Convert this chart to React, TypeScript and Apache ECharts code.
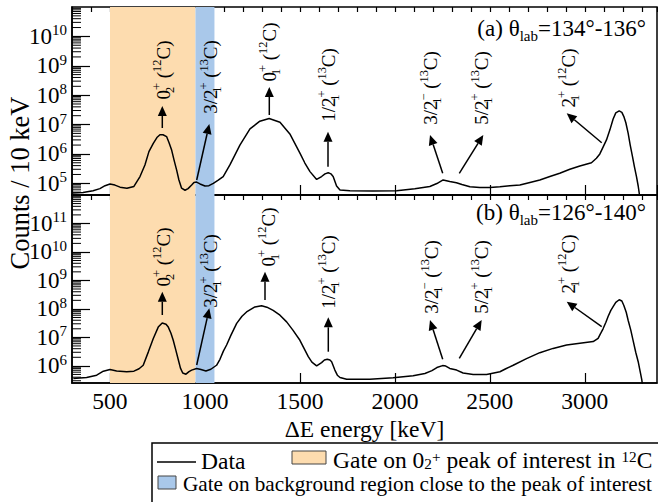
import React, { useEffect, useRef } from 'react';
import * as echarts from 'echarts';

// ---------- data ----------
// (a) theta_lab = 134-136 deg : energy [keV] and counts / 10 keV
const energyA = [305, 358, 411, 447, 474, 500, 526, 553, 589, 626, 658, 684, 705, 728, 747, 763, 779, 798, 811, 824, 837, 851, 863, 877, 895, 911, 930, 942, 956, 974, 1000, 1021, 1044, 1068, 1096, 1132, 1184, 1237, 1289, 1338, 1395, 1447, 1500, 1526, 1553, 1588, 1614, 1632, 1649, 1663, 1675, 1693, 1711, 1763, 1884, 2009, 2105, 2184, 2221, 2254, 2289, 2324, 2353, 2395, 2447, 2500, 2553, 2605, 2658, 2711, 2763, 2816, 2868, 2921, 2974, 3035, 3061, 3079, 3096, 3114, 3132, 3149, 3163, 3181, 3195, 3205, 3216, 3228, 3239, 3251, 3261, 3272, 3281, 3290, 3300];
const countsA = [4.7e4, 4.9e4, 5.6e4, 6.6e4, 8.3e4, 9.5e4, 8.7e4, 7.4e4, 6.8e4, 7.8e4, 1.7e5, 4.2e5, 1.2e6, 2.3e6, 3.6e6, 4.5e6, 4.5e6, 3.9e6, 2.4e6, 1.4e6, 6.3e5, 2.8e5, 1.3e5, 6.8e4, 5.8e4, 6.6e4, 8.7e4, 1.07e5, 1.1e5, 9.5e4, 8.1e4, 8.3e4, 1.0e5, 1.26e5, 1.7e5, 4.3e5, 2.0e6, 7.1e6, 1.3e7, 1.6e7, 1.2e7, 4.8e6, 1.07e6, 4.9e5, 2.5e5, 1.35e5, 1.7e5, 2.1e5, 2.3e5, 2.1e5, 1.7e5, 8.1e4, 5.9e4, 5.6e4, 5.5e4, 5.6e4, 6.5e4, 7.8e4, 9.8e4, 1.3e5, 1.15e5, 1.05e5, 9.1e4, 7.6e4, 7.2e4, 7.2e4, 7.6e4, 8.3e4, 8.7e4, 1.07e5, 1.3e5, 1.7e5, 2.2e5, 3.0e5, 3.9e5, 5.0e5, 7.1e5, 1.0e6, 1.7e6, 3.0e6, 6.6e6, 1.55e7, 2.5e7, 2.9e7, 2.6e7, 1.9e7, 1.15e7, 5.1e6, 2.0e6, 8.1e5, 3.7e5, 1.7e5, 8.1e4, 3.2e4, 1.0e4];

// (b) theta_lab = 126-140 deg
const energyB = [307, 377, 430, 465, 500, 535, 588, 626, 653, 675, 702, 728, 754, 775, 795, 807, 821, 833, 847, 860, 871, 883, 900, 916, 930, 956, 979, 1005, 1031, 1061, 1079, 1097, 1114, 1137, 1167, 1195, 1219, 1263, 1298, 1326, 1359, 1395, 1430, 1463, 1500, 1521, 1544, 1563, 1588, 1614, 1629, 1644, 1658, 1667, 1684, 1697, 1711, 1746, 1868, 1991, 2096, 2158, 2195, 2221, 2251, 2268, 2289, 2325, 2359, 2412, 2483, 2553, 2584, 2623, 2693, 2763, 2833, 2904, 2974, 3044, 3070, 3084, 3096, 3111, 3123, 3137, 3149, 3163, 3181, 3195, 3205, 3218, 3228, 3242, 3254, 3268, 3281, 3292, 3300, 3310];
const countsB = [3.6e5, 3.9e5, 4.7e5, 6.5e5, 7.4e5, 6.6e5, 6.2e5, 6.5e5, 7.9e5, 1.05e6, 3.1e6, 9.1e6, 2.3e7, 3.2e7, 2.9e7, 2.3e7, 1.4e7, 7.9e6, 3.5e6, 1.6e6, 8.3e5, 5.6e5, 5.1e5, 6.3e5, 7.1e5, 8.1e5, 7.4e5, 6.6e5, 7.6e5, 1.05e6, 1.7e6, 3.3e6, 5.4e6, 1.2e7, 3.1e7, 5.5e7, 7.8e7, 1.17e8, 1.3e8, 1.15e8, 8.9e7, 6.0e7, 3.5e7, 1.8e7, 7.9e6, 4.2e6, 2.1e6, 1.35e6, 1.0e6, 1.3e6, 1.6e6, 1.7e6, 1.6e6, 1.4e6, 7.1e5, 4.7e5, 3.9e5, 3.4e5, 3.4e5, 3.8e5, 4.5e5, 5.4e5, 6.8e5, 8.7e5, 1.02e6, 9.8e5, 8.1e5, 7.1e5, 5.6e5, 5.0e5, 5.0e5, 6.2e5, 7.9e5, 1.05e6, 1.8e6, 2.9e6, 4.1e6, 5.4e6, 6.2e6, 7.1e6, 9.3e6, 1.4e7, 2.0e7, 3.4e7, 5.5e7, 8.9e7, 1.2e8, 1.7e8, 2.1e8, 1.9e8, 1.35e8, 7.6e7, 4.0e7, 1.8e7, 7.9e6, 3.0e6, 1.4e6, 6.0e5, 3.2e5, 1.0e5];

const gatePeak = [500, 950];
const gateBackground = [950, 1050];
const xRange = [300, 3380];
const yRangeA = [4e4, 1e11];
const yRangeB = [2.5e5, 1e12];

const panelTitles = [
  { tag: '(a)', range: '134°-136°' },
  { tag: '(b)', range: '126°-140°' },
];

// peak annotations: label text (rich), shared by both panels
const peakLabels = [
  '{n|0}{subz|2}{sup|+}{n| (}{sup|12}{n|C)}',
  '{n|3/2}{subz|1}{sup|+}{n| (}{sup|13}{n|C)}',
  '{n|0}{subz|1}{sup|+}{n| (}{sup|12}{n|C)}',
  '{n|1/2}{subz|1}{sup|+}{n| (}{sup|13}{n|C)}',
  '{n|3/2}{subz|1}{sup|−}{n| (}{sup|13}{n|C)}',
  '{n|5/2}{subz|1}{sup|+}{n| (}{sup|13}{n|C)}',
  '{n|2}{subz|1}{sup|+}{n| (}{sup|12}{n|C)}',
];

// ---------- layout (pixels) ----------
const FONT = 'Liberation Serif';
const GRID_LEFT = 72;
const GRID_WIDTH = 585;
const GRID_A_TOP = 7;
const GRID_B_TOP = 195;
const GRID_H = 188;
const ORANGE = '#fddcaf';
const BLUE = '#a9c8ea';

const labelPosA = [[163, 70], [210, 77], [269, 52], [328, 85], [430, 88], [481, 88], [568, 78]];
const labelPosB = [[163, 257], [210, 271], [268, 237], [328, 272], [431, 277], [481, 277], [568, 264]];
const arrowsA = [
  [162.3, 128, 162.3, 106], [196.7, 180, 209.3, 124], [269.3, 115, 269.3, 87], [328, 166.7, 328, 131.7],
  [442.7, 173.3, 430, 135], [459.3, 173.3, 483.3, 135], [601.7, 142.7, 566.7, 113.3],
];
const arrowsB = [
  [162.3, 315, 162.3, 291.7], [196.7, 365, 209.3, 308.3], [265, 300, 265, 271.7], [328.3, 351.7, 328.3, 317.3],
  [442.7, 359.3, 430, 320], [459.3, 358.3, 481.7, 320], [601.7, 326.7, 566.7, 301.7],
];

function richSet(size: number, lh: number) {
  const s = Math.round(size * 0.65 * 10) / 10;
  return {
    n: { fontSize: size, fontFamily: FONT, color: '#000', lineHeight: lh, verticalAlign: 'middle' },
    sup: { fontSize: s, fontFamily: FONT, color: '#000', lineHeight: s, verticalAlign: 'top' },
    sub: { fontSize: s, fontFamily: FONT, color: '#000', lineHeight: s, verticalAlign: 'bottom' },
    subz: { fontSize: s, fontFamily: FONT, color: '#000', lineHeight: s, verticalAlign: 'bottom', width: 0 },
  };
}

function arrow(x1: number, y1: number, x2: number, y2: number) {
  const dx = x2 - x1, dy = y2 - y1;
  const len = Math.sqrt(dx * dx + dy * dy);
  const ux = dx / len, uy = dy / len;
  const hl = 10, hw = 4.5;
  const bx = x2 - ux * hl, by = y2 - uy * hl;
  return [
    { type: 'line', silent: true, z: 20, shape: { x1, y1, x2: bx, y2: by }, style: { stroke: '#000', lineWidth: 1.5 } },
    {
      type: 'polygon', silent: true, z: 20,
      shape: { points: [[x2, y2], [bx - uy * hw, by + ux * hw], [bx + uy * hw, by - ux * hw]] },
      style: { fill: '#000' },
    },
  ];
}

function zip(xs: number[], ys: number[]) {
  return xs.map((x, i) => [x, ys[i]]);
}

export default function App() {
  const ref = useRef<HTMLDivElement>(null);
  useEffect(() => {
    if (!ref.current) return;
    const chart = echarts.init(ref.current, null, { renderer: 'svg' });

    const yLabel = {
      inside: false,
      margin: 5,
      showMinLabel: false,
      showMaxLabel: false,
      formatter: (v: number) => `{b|10}{s|${Math.round(Math.log10(v))}}`,
      rich: {
        b: { fontSize: 23, fontFamily: FONT, color: '#000', lineHeight: 27, verticalAlign: 'middle' },
        s: { fontSize: 15, fontFamily: FONT, color: '#000', lineHeight: 15, verticalAlign: 'top' },
      },
    };
    const axisLine = { show: true, lineStyle: { color: '#000', width: 1.5 } };

    const xMajor = (grid: number, labels: boolean) => ({
      gridIndex: grid, type: 'value', min: xRange[0], max: xRange[1], splitNumber: 5,
      axisLine, splitLine: { show: false },
      axisTick: { inside: true, length: 10, lineStyle: { color: '#000', width: 1.2 } },
      axisLabel: labels
        ? { show: true, showMinLabel: false, showMaxLabel: false, margin: 6, fontSize: 23.5, fontFamily: FONT, color: '#000',
            formatter: (v: number) => String(Math.round(v)) }
        : { show: false },
      ...(labels
        ? { name: 'ΔE energy [keV]', nameLocation: 'middle', nameGap: 34,
            nameTextStyle: { fontSize: 23.5, fontFamily: FONT, color: '#000' } }
        : {}),
    });
    const xMinor = (grid: number) => ({
      gridIndex: grid, type: 'value', min: xRange[0], max: xRange[1], interval: 100,
      axisLine: { show: false }, splitLine: { show: false },
      axisTick: { inside: true, length: 5, lineStyle: { color: '#000', width: 1.2 } },
      axisLabel: { show: false },
    });
    const yAxis = (grid: number, r: number[]) => ({
      gridIndex: grid, type: 'log', logBase: 10, min: r[0], max: r[1],
      axisLine, splitLine: { show: false },
      axisTick: { inside: true, length: 18, lineStyle: { color: '#000', width: 1.2 } },
      axisLabel: yLabel,
    });

    const lineSeries = (xi: number, yi: number, data: number[][]) => ({
      type: 'line', xAxisIndex: xi, yAxisIndex: yi, data, showSymbol: false, symbol: 'none',
      lineStyle: { color: '#000', width: 1.5 }, clip: true, silent: true, z: 3,
      markArea: {
        silent: true,
        data: [
          [{ xAxis: gatePeak[0], itemStyle: { color: ORANGE, opacity: 1 } }, { xAxis: gatePeak[1] }],
          [{ xAxis: gateBackground[0], itemStyle: { color: BLUE, opacity: 1 } }, { xAxis: gateBackground[1] }],
        ],
      },
    });

    chart.setOption({
      animation: false,
      backgroundColor: '#fff',
      grid: [
        { left: GRID_LEFT, top: GRID_A_TOP, width: GRID_WIDTH, height: GRID_H, show: true, borderColor: '#000', borderWidth: 1.5, backgroundColor: 'transparent' },
        { left: GRID_LEFT, top: GRID_B_TOP, width: GRID_WIDTH, height: GRID_H, show: true, borderColor: '#000', borderWidth: 1.5, backgroundColor: 'transparent' },
      ],
      xAxis: [xMajor(0, false), xMinor(0), xMajor(1, true), xMinor(1)],
      yAxis: [yAxis(0, yRangeA), yAxis(1, yRangeB)],
      series: [lineSeries(0, 0, zip(energyA, countsA)), lineSeries(2, 1, zip(energyB, countsB))],
    });

    // ROOT-style log minor ticks (2..9 x 10^n), placed through the axis scale
    const minorTicks: any[] = [];
    [yRangeA, yRangeB].forEach((r, i) => {
      const d0 = Math.floor(Math.log10(r[0]));
      const d1 = Math.ceil(Math.log10(r[1]));
      for (let d = d0; d <= d1; d++) {
        for (let k = 2; k <= 9; k++) {
          const v = k * Math.pow(10, d);
          if (v <= r[0] || v >= r[1]) continue;
          const py = chart.convertToPixel({ yAxisIndex: i } as any, v) as unknown as number;
          minorTicks.push({
            type: 'line', silent: true, z: 10,
            shape: { x1: GRID_LEFT, y1: py, x2: GRID_LEFT + 9, y2: py },
            style: { stroke: '#000', lineWidth: 1 },
          });
        }
      }
    });

    const texts: any[] = [];
    const rich19 = richSet(19, 25);
    [labelPosA, labelPosB].forEach((pos) => {
      pos.forEach((p, i) => {
        texts.push({
          type: 'text', silent: true, z: 20, x: p[0], y: p[1], rotation: Math.PI / 2,
          style: { text: peakLabels[i], rich: rich19, align: 'center', verticalAlign: 'middle' },
        });
      });
    });
    const arrows: any[] = [];
    [...arrowsA, ...arrowsB].forEach((a) => arrows.push(...arrow(a[0], a[1], a[2], a[3])));

    const rich23 = richSet(23, 30);
    const panelText = panelTitles.map((t, i) => ({
      type: 'text', silent: true, z: 20, x: 646, y: i === 0 ? 28 : 212,
      style: {
        text: `{n|${t.tag} θ}{sub|lab}{n|=${t.range}}`,
        rich: { ...rich23, sub: { ...rich23.sub, fontSize: 15, lineHeight: 15 } },
        align: 'right', verticalAlign: 'middle',
      },
    }));

    const yTitle = {
      type: 'text', silent: true, z: 20, x: 20, y: 183, rotation: Math.PI / 2,
      style: { text: 'Counts / 10 keV', fontSize: 26.5, fontFamily: FONT, fill: '#000', align: 'center', verticalAlign: 'middle' },
    };

    const rich24 = richSet(23.5, 22);
    const legend = [
      { type: 'rect', silent: true, z: 30, shape: { x: 152, y: 443, width: 520, height: 80 }, style: { fill: '#fff', stroke: '#000', lineWidth: 1.5 } },
      { type: 'line', silent: true, z: 31, shape: { x1: 157, y1: 462, x2: 196, y2: 462 }, style: { stroke: '#000', lineWidth: 1.5 } },
      { type: 'text', silent: true, z: 31, x: 201, y: 461, style: { text: 'Data', fontSize: 23.5, fontFamily: FONT, fill: '#000', align: 'left', verticalAlign: 'middle', lineHeight: 22 } },
      { type: 'rect', silent: true, z: 31, shape: { x: 292, y: 451, width: 34, height: 13 }, style: { fill: ORANGE, stroke: '#444', lineWidth: 1 } },
      { type: 'text', silent: true, z: 31, x: 333, y: 460, style: { text: '{n|Gate on 0}{sub|2}{sup|+}{n| peak of interest in }{sup|12}{n|C}', rich: rich24, align: 'left', verticalAlign: 'middle' } },
      { type: 'rect', silent: true, z: 31, shape: { x: 158, y: 476, width: 18, height: 13 }, style: { fill: BLUE, stroke: '#444', lineWidth: 1 } },
      { type: 'text', silent: true, z: 31, x: 183, y: 484, style: { text: 'Gate on background region close to the peak of interest', fontSize: 21.2, fontFamily: FONT, fill: '#000', align: 'left', verticalAlign: 'middle', lineHeight: 21 } },
    ];

    chart.setOption({ graphic: [...minorTicks, ...arrows, ...texts, ...panelText, yTitle, ...legend] });

    return () => chart.dispose();
  }, []);
  return <div ref={ref} style={{ position: 'absolute', left: 0, top: 0, width: 658, height: 502 }} />;
}
